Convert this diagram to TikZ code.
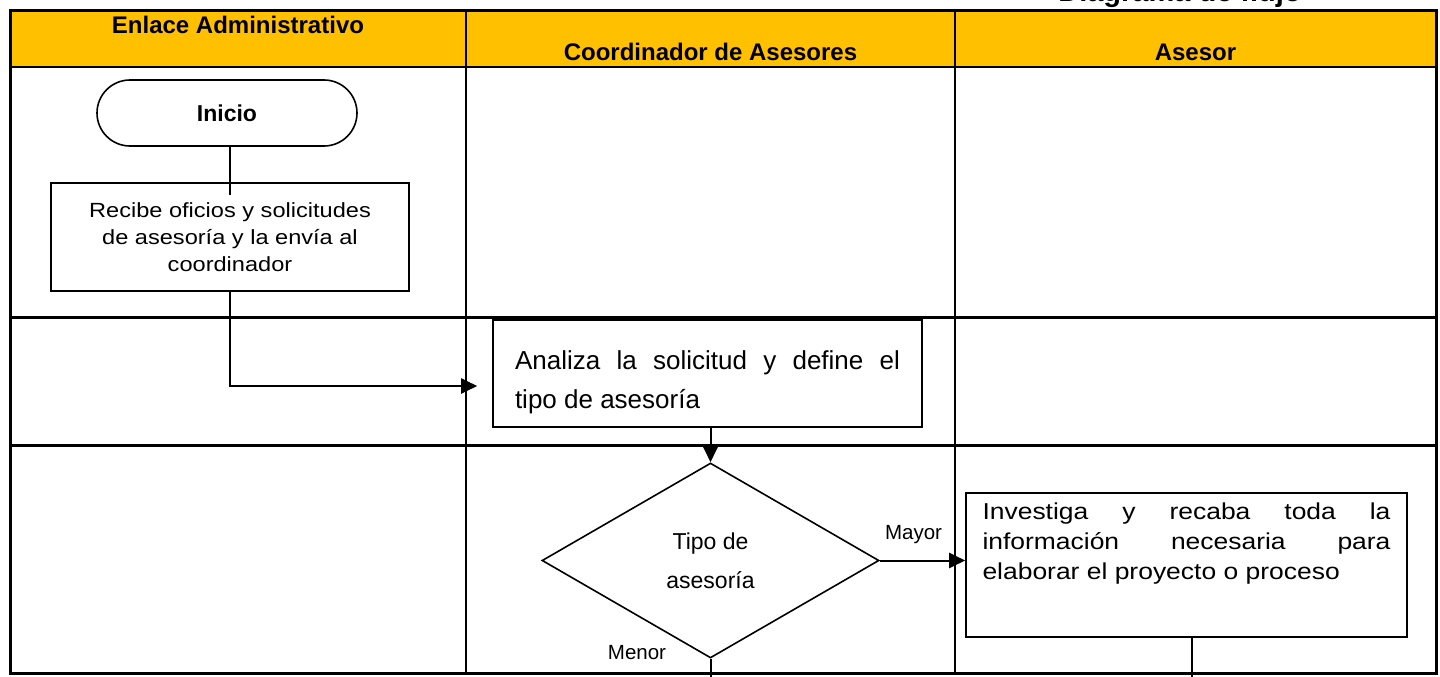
\documentclass[tikz,border=0pt]{standalone}
\usepackage{fontspec}
\setmainfont{Liberation Sans}
\newfontfamily\widefont[FakeStretch=1.15]{Liberation Sans}
\usetikzlibrary{arrows.meta, shapes.geometric}

\definecolor{lanehead}{HTML}{FFC000}

\begin{document}
\begin{tikzpicture}[
    x=1pt, y=-1pt,
    lane/.style={line width=2.5pt},
    frame/.style={line width=3pt},
    head/.style={font=\fontsize{24}{28}\selectfont\bfseries, anchor=base},
    proc/.style={draw, line width=1.6pt, rectangle, inner sep=0pt},
    link/.style={line width=2pt},
    flow/.style={link, -{Triangle[length=16pt,width=15pt]}},
    branch/.style={font=\fontsize{20.5}{24}\selectfont}
  ]
  \useasboundingbox (0,0) rectangle (1440,677);

  % carriles
  \fill[lanehead] (10,11) rectangle (1436,67);
  \draw[lane] (10,67) -- (1436,67);
  \draw[lane] (10,317.5) -- (1436,317.5);
  \draw[lane] (10,445.5) -- (1436,445.5);
  \draw[lane] (466,11) -- (466,673);
  \draw[lane] (955,11) -- (955,673);
  \draw[frame] (10,11) rectangle (1436,673);

  \node[head, font=\fontsize{29}{32}\selectfont\bfseries] (titulo) at (1180,2) {Diagrama de flujo};
  \node[head] (enlace) at (238,34) {Enlace Administrativo};
  \node[head] (coord) at (710.5,61) {Coordinador de Asesores};
  \node[head] (asesor) at (1195.5,61) {Asesor};

  % pasos
  \node[draw, line width=1.6pt, minimum width=260pt, minimum height=66pt, rounded corners=33pt,
    font=\fontsize{23}{26}\selectfont\bfseries] (inicio) at (227,113) {Inicio};
  \node[proc, minimum width=358pt, minimum height=108pt, align=center,
    font=\widefont\fontsize{20.5}{27}\selectfont] (recibe) at (230,237)
    {Recibe oficios y solicitudes\\de asesoría y la envía al\\coordinador};
  \node[proc, minimum width=429pt, minimum height=107pt,
    font=\fontsize{26}{39}\selectfont] (analiza) at (707.5,373.5)
    {\parbox[c][76pt][b]{385pt}{Analiza la solicitud y define el\linebreak tipo de asesoría}};
  \node[draw, diamond, line width=1.6pt, minimum width=337pt, minimum height=195pt, inner sep=0pt,
    align=center, font=\fontsize{23}{39}\selectfont] (tipo) at (710.5,560.5) {Tipo de\\asesoría};
  \node[proc, minimum width=441pt, minimum height=144pt,
    font=\widefont\fontsize{23}{30}\selectfont] (investiga) at (1186.5,565)
    {\parbox[c][124pt][t]{408pt}{Investiga y recaba toda la\linebreak información necesaria para\linebreak elaborar el proyecto o proceso}};

  \node[branch] (mayor) at (913.5,535) {Mayor};
  \node[branch] (menor) at (637,653) {Menor};

  \coordinate (sigue1) at (710.5,690);
  \coordinate (sigue2) at (1192,690);

  % conectores
  \draw[link] (recibe.north |- inicio.south) -- ([yshift=-13pt]recibe.north);
  \draw[flow, shorten >=15pt] (recibe.south) |- ([yshift=-12.5pt]analiza.west);
  \draw[flow] (analiza.south -| tipo.north) -- (tipo.north);
  \draw[flow] (tipo.east) -- (tipo.east -| investiga.west);
  \draw[link] (tipo.south) -- (sigue1);
  \draw[link] (investiga.south -| sigue2) -- (sigue2);

\end{tikzpicture}
\end{document}
